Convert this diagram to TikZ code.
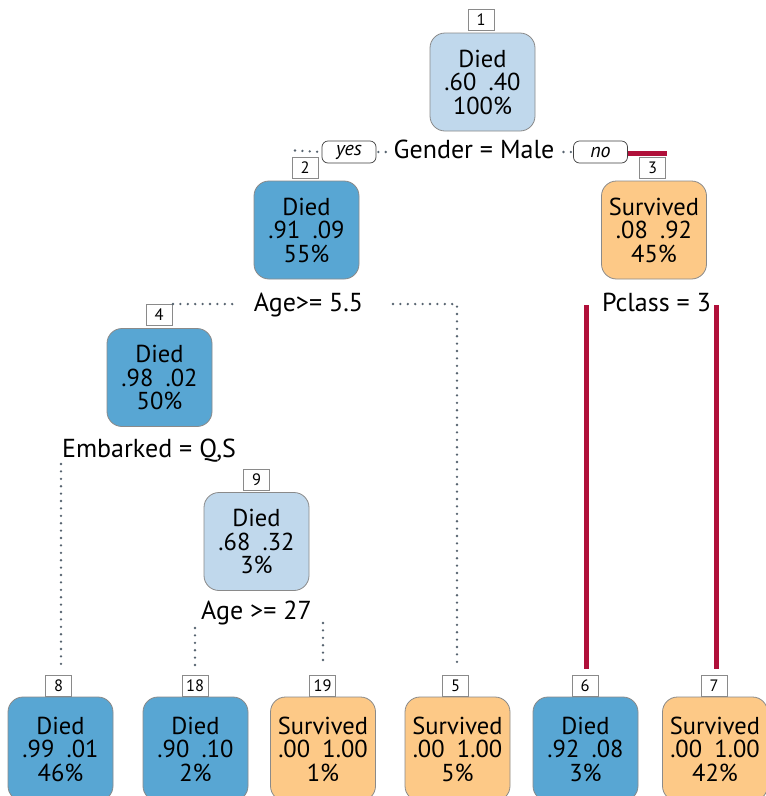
\documentclass[tikz,border=0pt]{standalone}
\usepackage{fontspec}
\setmainfont{PT Sans}
\definecolor{lblue}{HTML}{C0D8EC}
\definecolor{mblue}{HTML}{58A6D3}
\definecolor{orng}{HTML}{FDC987}
\definecolor{hred}{HTML}{B0103A}
\definecolor{dotc}{HTML}{56636F}
\definecolor{bord}{HTML}{8A8A8A}
\begin{document}
\begin{tikzpicture}[x=1pt,y=-1pt,
  tnode/.style={draw=bord, line width=0.8pt, rounded corners=15pt, minimum width=105pt, minimum height=98pt, align=center, inner sep=0pt, font=\fontsize{24.5}{23.5}\selectfont},
  leaf/.style={tnode, minimum height=104pt},
  numbox/.style={draw=bord, fill=white, line width=0.8pt, minimum width=26pt, minimum height=21pt, inner sep=0pt, font=\fontsize{16.5}{16.5}\selectfont},
  splitlab/.style={font=\fontsize{26}{26}\selectfont, inner sep=0pt, anchor=base},
  yn/.style={draw=black!75, line width=0.7pt, rounded corners=6pt, minimum width=54pt, minimum height=22pt, inner sep=0pt, font=\fontsize{20}{20}\selectfont\itshape},
  dotline/.style={draw=dotc, line width=2.6pt, line cap=round, dash pattern=on 0pt off 7.4pt},
  redline/.style={draw=hred, line width=5pt}
]
\useasboundingbox[fill=white] (0,0) rectangle (766,796);

% tree nodes
\node[tnode, fill=lblue] (n1) at (482.5,82) {Died\\.60\enspace .40\\100\%};
\node[tnode, fill=mblue] (n2) at (306.5,230) {Died\\.91\enspace .09\\55\%};
\node[tnode, fill=orng]  (n3) at (654,230) {Survived\\.08\enspace .92\\45\%};
\node[tnode, fill=mblue] (n4) at (159.5,377.5) {Died\\.98\enspace .02\\50\%};
\node[tnode, fill=lblue] (n9) at (256.5,541.5) {Died\\.68\enspace .32\\3\%};
\node[leaf, fill=mblue] (n8)  at (60.5,749) {Died\\.99\enspace .01\\46\%};
\node[leaf, fill=mblue] (n18) at (195.5,749) {Died\\.90\enspace .10\\2\%};
\node[leaf, fill=orng]  (n19) at (323,749) {Survived\\.00\enspace 1.00\\1\%};
\node[leaf, fill=orng]  (n5)  at (457.5,749) {Survived\\.00\enspace 1.00\\5\%};
\node[leaf, fill=mblue] (n6)  at (585.5,749) {Died\\.92\enspace .08\\3\%};
\node[leaf, fill=orng]  (n7)  at (715,749) {Survived\\.00\enspace 1.00\\42\%};

% number boxes
\node[numbox] (k1)  at (481,20) {1};
\node[numbox] (k2)  at (305,167.5) {2};
\node[numbox] (k3)  at (652.5,167.5) {3};
\node[numbox] (k4)  at (159,315) {4};
\node[numbox] (k9)  at (256.5,479.5) {9};
\node[numbox] (k8)  at (58.5,685.5) {8};
\node[numbox] (k18) at (195,685.5) {18};
\node[numbox] (k19) at (322.5,685.5) {19};
\node[numbox] (k5)  at (455.5,685.5) {5};
\node[numbox] (k6)  at (585,685.5) {6};
\node[numbox] (k7)  at (714,685.5) {7};

% split labels
\node[splitlab] (s1) at (474,158) {Gender = Male};
\node[splitlab] (s2) at (308.5,311) {Age>= 5.5};
\node[splitlab] (s3) at (656.5,311.5) {Pclass = 3};
\node[splitlab] (s4) at (149,457.5) {Embarked = Q,S};
\node[splitlab] (s9) at (256.5,619) {Age >= 27};
\node[yn] (yes) at (349,152) {yes};
\node[yn] (no)  at (600.5,152) {no};

% connector end points
\coordinate (g1) at (295,150.5);
\coordinate (g2) at (667,153.5);
\coordinate (a1) at (173,304);
\coordinate (a2) at (238,304);
\coordinate (b1) at (393,304);
\coordinate (b2) at (457,304);
\coordinate (b3) at (457,667);
\coordinate (p1) at (586,305);
\coordinate (p2) at (586,669);
\coordinate (q1) at (716,305);
\coordinate (q2) at (716,669);
\coordinate (e1) at (61,464);
\coordinate (e2) at (61,668);
\coordinate (r1) at (195,628);
\coordinate (r2) at (195,670);
\coordinate (t1) at (323,623);
\coordinate (t2) at (323,666);

% connectors
\draw[dotline] (g1) -- (yes.west);
\draw[dotline] ([xshift=2pt]yes.east) -- ([xshift=-3pt]s1.west |- yes.east);
\draw[dotline] ([xshift=9pt]s1.east |- no.west) -- (no.west);
\draw[redline] (no.east |- g2) -- (g2);
\draw[dotline] (a1) -- (a2);
\draw[dotline] (b1) -- (b2) -- (b3);
\draw[redline] (p1) -- (p2);
\draw[redline] (q1) -- (q2);
\draw[dotline] (e1) -- (e2);
\draw[dotline] (r1) -- (r2);
\draw[dotline] (t1) -- (t2);
\end{tikzpicture}
\end{document}
